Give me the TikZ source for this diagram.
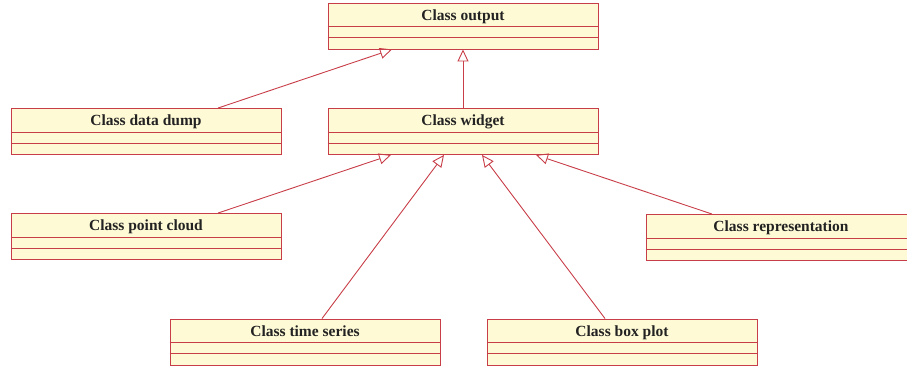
\documentclass[tikz,border=0pt]{standalone}
\usepackage{fontspec}
\setmainfont{Liberation Serif}
\usetikzlibrary{arrows.meta}
\definecolor{umlred}{RGB}{200,62,72}
\definecolor{umlfill}{RGB}{255,250,214}
\definecolor{umltext}{RGB}{34,34,34}
\tikzset{
  clsbox/.style={draw=umlred, fill=umlfill, line width=0.9pt, minimum width=270pt, minimum height=46pt, inner sep=0pt},
  clstitle/.style={font=\fontsize{15.5}{17}\selectfont\bfseries, text=umltext, inner sep=0pt, anchor=base},
  sepline/.style={draw=umlred, line width=0.9pt},
  gen/.style={draw=umlred, line width=0.9pt, -{Triangle[open, length=12pt, width=11pt]}}
}
\newcommand{\umlclass}[3]{%
  \node[clsbox] (#1) at (#2) {};
  \node[clstitle] (#1t) at ([yshift=-17.5pt]#1.north) {#3};
  \draw[sepline] ([yshift=-24pt]#1.north west) -- ([yshift=-24pt]#1.north east);
  \draw[sepline] ([yshift=-35pt]#1.north west) -- ([yshift=-35pt]#1.north east);
}
\begin{document}
\begin{tikzpicture}[x=1pt,y=-1pt]
\useasboundingbox (0,0) rectangle (907,369);
\umlclass{out}{463,26}{Class output}
\umlclass{dd}{146,131.5}{Class data dump}
\umlclass{wid}{463,131.5}{Class widget}
\umlclass{pc}{146,236.5}{Class point cloud}
\umlclass{rep}{781,237.5}{Class representation}
\umlclass{ts}{305,342}{Class time series}
\umlclass{bp}{622,342}{Class box plot}
\draw[gen] ([xshift=72pt]dd.north) -- ([xshift=-71pt]out.south);
\draw[gen] (wid.north) -- (out.south);
\draw[gen] ([xshift=72pt]pc.north) -- ([xshift=-72pt]wid.south);
\draw[gen] ([xshift=17pt]ts.north) -- ([xshift=-19pt]wid.south);
\draw[gen] ([xshift=-17pt]bp.north) -- ([xshift=19pt]wid.south);
\draw[gen] ([xshift=-69pt]rep.north) -- ([xshift=73pt]wid.south);
\end{tikzpicture}
\end{document}
